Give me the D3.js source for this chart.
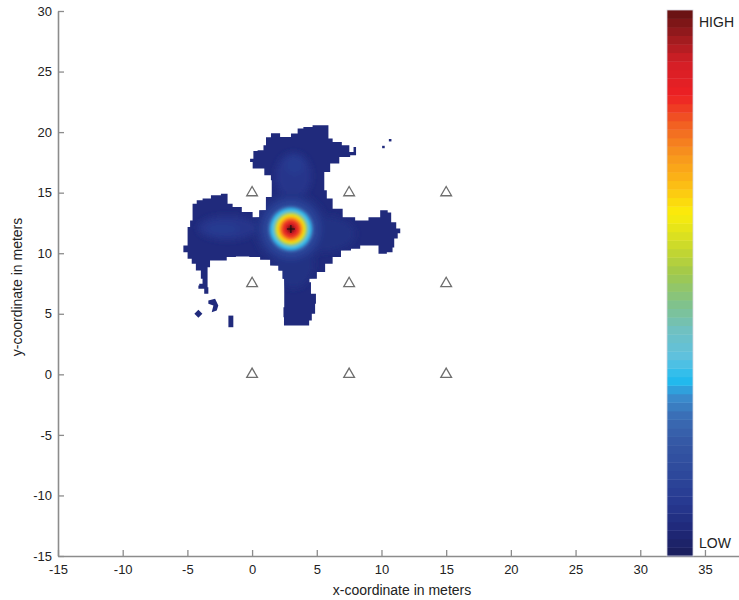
<!DOCTYPE html>
<html>
<head>
<meta charset="utf-8">
<script src="https://cdn.jsdelivr.net/npm/d3@7"></script>
<style>
  body { margin: 0; background: #fff; }
  svg { display: block; font-family: "Liberation Sans", Arial, Helvetica, sans-serif; }
</style>
</head>
<body>
<svg id="chart" width="739" height="600"></svg>
<script>
// Axis ticks (meters)
const xTicks = [-15, -10, -5, 0, 5, 10, 15, 20, 25, 30, 35];
const yTicks = [-15, -10, -5, 0, 5, 10, 15, 20, 25, 30];

// Sensor (anchor) positions, meters
const sensorX = [0, 7.5, 15, 0, 7.5, 15, 0, 7.5, 15];
const sensorY = [0, 0, 0, 7.5, 7.5, 7.5, 15, 15, 15];

// Estimated source position
const sourcePos = [3, 12];

// Outline of the region with non-zero likelihood (meters)
const coverageOutline = [
  [0.75,18.50],[1.01,18.92],[1.14,19.58],[1.78,19.91],[2.55,19.60],[3.46,19.88],[3.58,20.30],
  [4.35,20.43],[5.00,20.57],[5.90,20.57],[5.90,19.47],[6.55,19.19],[7.32,18.92],[7.71,18.36],
  [7.97,18.77],[8.10,18.09],[7.06,17.95],[6.42,17.40],[5.65,16.71],[5.51,16.02],[5.65,15.19],
  [5.90,14.51],[6.55,13.68],[7.45,12.98],[8.48,12.71],[9.51,12.98],[10.29,13.54],[10.67,13.37],
  [10.83,12.55],[11.45,12.05],[11.45,11.64],[11.06,11.22],[10.91,10.48],[10.80,10.09],[10.03,9.96],
  [9.51,10.64],[8.61,10.64],[8.10,10.37],[7.19,10.23],[6.55,9.68],[5.90,9.13],[5.39,8.44],
  [4.62,7.89],[4.23,7.61],[4.87,6.65],[5.00,5.82],[4.74,5.00],[4.49,4.44],[4.33,4.03],
  [2.63,4.03],[2.30,4.71],[2.55,5.54],[2.42,6.24],[2.55,7.20],[2.42,7.89],[2.30,8.58],
  [1.78,8.99],[1.01,9.46],[0.23,9.68],[-0.67,9.73],[-1.83,9.68],[-2.09,9.40],[-3.12,9.40],
  [-3.38,8.85],[-3.50,8.16],[-3.38,7.20],[-3.38,6.65],[-4.02,7.06],[-4.28,7.34],[-3.89,7.48],
  [-3.77,7.89],[-4.15,8.58],[-4.54,9.13],[-4.79,9.54],[-5.18,10.09],[-5.44,10.50],[-5.18,10.64],
  [-4.79,12.16],[-4.79,12.71],[-4.41,14.09],[-4.15,14.37],[-3.50,14.51],[-2.86,14.78],[-1.96,14.92],
  [-1.83,14.09],[-1.18,13.81],[-0.41,13.40],[0.49,12.98],[0.62,13.54],[1.52,14.64],[1.52,16.02],
  [1.39,16.43],[0.50,17.00],[-0.41,17.53],[0.10,17.81],[0.10,18.44]
];

// Small detached patches (meters)
const coverageIslands = [
  [[10.05,18.87],[10.25,18.87],[10.25,18.67],[10.05,18.67]],
  [[10.57,19.43],[10.77,19.43],[10.77,19.23],[10.57,19.23]],
  [[-3.38,6.10],[-2.86,6.24],[-2.61,5.68],[-2.73,5.27],[-3.12,5.13],[-2.99,5.68],[-3.38,5.82]],
  [[-4.46,5.00],[-4.15,5.33],[-3.84,5.00],[-4.15,4.67]],
  [[-1.83,4.85],[-1.45,4.85],[-1.45,3.89],[-1.83,3.89]]
];

// Background likelihood level inside the region (0 = LOW, 1 = HIGH)
const baseLevel = 0.05;

// Weaker secondary lobes: [cx, cy, rx, ry, level]
const lobes = [
  [5.4, 11.6, 2.6, 1.5, 0.07],
  [3.2, 9.2, 1.6, 2.1, 0.07],
  [-1.9, 12.1, 2.3, 1.0, 0.085],
  [-2.3, 12.0, 1.3, 0.55, 0.105],
  [3.2, 16.4, 1.4, 1.9, 0.085],
  [3.3, 17.3, 0.75, 0.85, 0.105]
];

// Main peak contour levels and their radii (meters) around the source
const peakLevels = [0.07, 0.10, 0.13, 0.17, 0.21, 0.25, 0.28, 0.31, 0.33, 0.37, 0.43, 0.50, 0.58, 0.66, 0.74, 0.82, 0.90, 0.97];
const peakRadiusX = [2.8, 2.4, 2.12, 1.92, 1.8, 1.72, 1.66, 1.6, 1.52, 1.42, 1.33, 1.24, 1.14, 1.03, 0.9, 0.74, 0.52, 0.28];
const peakRadiusY = [3.0, 2.6, 2.3, 2.08, 1.95, 1.86, 1.79, 1.73, 1.64, 1.53, 1.44, 1.34, 1.23, 1.11, 0.97, 0.8, 0.56, 0.30];

// Colormap stops
const cmapStops = [0, 0.04, 0.09, 0.15, 0.2, 0.25, 0.29, 0.32, 0.36, 0.41, 0.46, 0.52, 0.58, 0.63, 0.69, 0.74, 0.79, 0.85, 0.91, 0.96, 1];
const cmapColors = ["#1b1f5f", "#1f2878", "#263890", "#2e4a9c", "#3456a4", "#3a6cb4", "#3a8ecf", "#20bdf0",
  "#5dc1e0", "#6fc1c4", "#80c28c", "#a2c94a", "#d5de24", "#fbee0a", "#fcb716", "#f7941d", "#f26522",
  "#ed2024", "#d41f26", "#9a1b1e", "#6b1313"];
const nColors = 64;

const svg = d3.select("#chart");
const x = d3.scaleLinear().domain([-15, 37.6]).range([58, 738.6]);
const y = d3.scaleLinear().domain([-15, 30]).range([556, 11]);

const cmap = d3.scaleLinear().domain(cmapStops).range(cmapColors).interpolate(d3.interpolateRgb);
const levelColor = v => cmap(Math.min(nColors - 1, Math.floor(v * nColors)) / (nColors - 1));

const stepLine = d3.line().x(d => x(d[0])).y(d => y(d[1])).curve(d3.curveStep);
const closedPath = pts => stepLine(pts.concat([pts[0]])) + "Z";
const polyPath = pts => d3.line().x(d => x(d[0])).y(d => y(d[1]))(pts) + "Z";

const defs = svg.append("defs");
defs.append("clipPath").attr("id", "coverClip")
  .append("path").attr("d", closedPath(coverageOutline));
const blur = (id, s) => defs.append("filter").attr("id", id)
  .attr("x", "-30%").attr("y", "-30%").attr("width", "160%").attr("height", "160%")
  .append("feGaussianBlur").attr("stdDeviation", s);
blur("softWide", 3.2);
blur("soft", 1.0);

// Likelihood surface
const base = levelColor(baseLevel);
svg.append("path").attr("d", closedPath(coverageOutline)).attr("fill", base);
svg.selectAll("path.island").data(coverageIslands).join("path")
  .attr("class", "island").attr("d", polyPath).attr("fill", base);

const surf = svg.append("g").attr("clip-path", "url(#coverClip)");
const wide = surf.append("g").attr("filter", "url(#softWide)");
const sharp = surf.append("g").attr("filter", "url(#soft)");

wide.selectAll("ellipse.lobe").data(lobes).join("ellipse")
  .attr("class", "lobe")
  .attr("cx", d => x(d[0])).attr("cy", d => y(d[1]))
  .attr("rx", d => x(d[2]) - x(0)).attr("ry", d => y(0) - y(d[3]))
  .attr("fill", d => levelColor(d[4]));

const rings = peakLevels.map((v, i) => ({ v, rx: peakRadiusX[i], ry: peakRadiusY[i] }));
[[wide, rings.filter(r => r.v < 0.2)], [sharp, rings.filter(r => r.v >= 0.2)]].forEach(([g, data]) => {
  g.selectAll("ellipse.peak").data(data).join("ellipse")
    .attr("class", "peak")
    .attr("cx", x(sourcePos[0])).attr("cy", y(sourcePos[1]))
    .attr("rx", d => x(d.rx) - x(0))
    .attr("ry", d => y(0) - y(d.ry))
    .attr("fill", d => levelColor(d.v));
});

// Sensors
const tri = d3.symbol(d3.symbolTriangle, 50);
svg.selectAll("path.sensor").data(sensorX).join("path")
  .attr("class", "sensor")
  .attr("transform", (d, i) => `translate(${x(d)},${y(sensorY[i])})`)
  .attr("d", tri)
  .attr("fill", "#fff").attr("stroke", "#6e6e6e").attr("stroke-width", 1.3);

// Source marker
const sx = x(sourcePos[0]), sy = y(sourcePos[1]);
svg.append("path").attr("d", `M${sx - 4},${sy}H${sx + 4}M${sx},${sy - 4}V${sy + 4}`)
  .attr("stroke", "#111").attr("stroke-width", 1);

// Axes
const axisColor = "#8c8c8c";
const gx = svg.append("g").attr("transform", `translate(0,${y(-15)})`)
  .call(d3.axisBottom(x).tickValues(xTicks).tickSizeInner(-6).tickSizeOuter(0).tickPadding(9));
const gy = svg.append("g").attr("transform", `translate(${x(-15)},0)`)
  .call(d3.axisLeft(y).tickValues(yTicks).tickSizeInner(-6).tickSizeOuter(0).tickPadding(6));
[gx, gy].forEach(g => {
  g.select(".domain").attr("stroke", axisColor).attr("stroke-width", 1.6);
  g.selectAll(".tick line").attr("stroke", axisColor).attr("stroke-width", 1.3);
  g.selectAll(".tick text").attr("fill", "#222").attr("font-size", 13)
    .attr("font-family", "'Liberation Sans', Arial, Helvetica, sans-serif")
    .text(d => d < 0 ? "-" + Math.abs(d) : d);
});

svg.append("text").attr("x", 402).attr("y", 595).attr("text-anchor", "middle")
  .attr("font-size", 14).attr("fill", "#222").text("x-coordinate in meters");
svg.append("text").attr("transform", "translate(22,287) rotate(-90)").attr("text-anchor", "middle")
  .attr("font-size", 14).attr("fill", "#222").text("y-coordinate in meters");

// Colorbar
const cbX = 667, cbW = 26, cbTop = 10, cbBottom = 556;
const cb = d3.scaleLinear().domain([0, nColors]).range([cbBottom, cbTop]);
svg.append("g").selectAll("rect").data(d3.range(nColors)).join("rect")
  .attr("x", cbX).attr("width", cbW)
  .attr("y", d => cb(d + 1)).attr("height", d => cb(d) - cb(d + 1) + 0.4)
  .attr("fill", d => cmap(d / (nColors - 1)));
svg.append("rect").attr("x", cbX).attr("y", cbTop).attr("width", cbW).attr("height", cbBottom - cbTop)
  .attr("fill", "none").attr("stroke", "#d8d8e0").attr("stroke-width", 0.8);
svg.append("text").attr("x", 699).attr("y", 27).attr("font-size", 14).attr("fill", "#222").text("HIGH");
svg.append("text").attr("x", 699).attr("y", 548).attr("font-size", 14).attr("fill", "#222").text("LOW");
</script>
</body>
</html>
